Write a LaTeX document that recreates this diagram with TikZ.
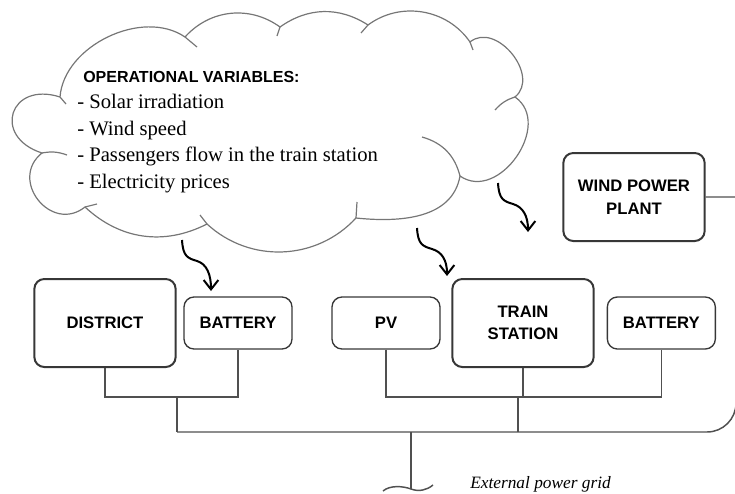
\documentclass[tikz,border=0pt]{standalone}
\usepackage{fontspec}
\setmainfont{Liberation Serif}
\setsansfont{Liberation Sans}
\usetikzlibrary{arrows.meta,positioning,calc}
\definecolor{boxgray}{RGB}{55,55,55}
\definecolor{wiregray}{RGB}{80,80,80}
\definecolor{cloudgray}{RGB}{118,118,118}

\begin{document}
\begin{tikzpicture}[x=0.75pt,y=0.75pt,
  unit/.style={draw=boxgray, rounded corners=7.5pt, align=center,
               font=\sffamily\bfseries\fontsize{12.5}{17}\selectfont},
  bigunit/.style={unit, line width=1.5pt,
                  minimum width=106pt, minimum height=66pt},
  smallunit/.style={unit, line width=1pt,
                    minimum width=81pt, minimum height=39pt},
  puff/.style={draw=cloudgray, line width=0.9pt},
  wire/.style={draw=wiregray, line width=1.1pt},
  squig/.style={-{Straight Barb[length=7pt,width=11pt]}, line width=1.5pt}
]
  \useasboundingbox (0,0) rectangle (735,-493);
  \clip (0,0) rectangle (735,-493);

  \node[bigunit](district) at (105,-323){DISTRICT};
  \node[smallunit, right=5pt of district](battL){BATTERY};
  \node[smallunit](pv) at (386,-323){PV};
  \node[bigunit, right=8pt of pv](train){TRAIN\\STATION};
  \node[smallunit, right=9pt of train](battR){BATTERY};
  \node[bigunit](wind) at (634,-197){WIND POWER\\PLANT};

  % cloud
  \coordinate (cA) at (60,-97);
  \coordinate (cK) at (185,-37);
  \coordinate (cJ) at (280,-27);
  \coordinate (cI) at (368,-25);
  \coordinate (cH) at (470,-42);
  \coordinate (cG) at (515,-97);
  \coordinate (cF) at (460,-176);
  \coordinate (cE) at (356,-218);
  \coordinate (cD) at (207,-224);
  \coordinate (cC) at (85,-207);
  \coordinate (cB) at (42,-153);
  \draw[puff] (cA) to[bend left=60, looseness=0.95] (cK) to[bend left=42] (cJ)
    to[bend left=34] (cI) to[bend left=46] (cH)
    to[bend left=90, looseness=1.2] (cG)
    to[bend left=90, looseness=1.25] (cF) to[out=-100,in=-6] (cE)
    to[bend left=45] (cD) to[bend left=35] (cC)
    to[bend left=90, looseness=1.6] (cB)
    to[bend left=90, looseness=2.3] (cA);
  \draw[puff] (cF) to[bend right=30] (422,-137);
  \draw[puff] (cB) to[bend left=15] (67,-155);
  \draw[puff] (cG) to[bend right=15] (495,-110);
  \foreach \p/\q in {cA/{66,-104}, cK/{197,-47}, cJ/{277,-36}, cI/{361,-33},
                     cH/{473,-50}, cE/{357,-202}, cD/{200,-215}, cC/{97,-204}}
    \draw[puff] (\p) -- (\q);

  \node[anchor=base west, align=left, inner sep=0pt,
        font=\fontsize{15.5}{19.8}\selectfont](varlist) at (77,-188)
    {\hspace*{4.5pt}{\sffamily\bfseries\fontsize{12}{19.8}\selectfont OPERATIONAL VARIABLES:}\\
     - Solar irradiation\\
     - Wind speed\\
     - Passengers flow in the train station\\
     - Electricity prices};

  % squiggly arrows
  \coordinate (s1) at (182,-240);
  \coordinate (e1) at (211,-291);
  \coordinate (s2) at (417,-228);
  \coordinate (e2) at (447,-276);
  \coordinate (s3) at (498,-183);
  \coordinate (e3) at (528,-232);
  \foreach \n in {1,2,3}
    \draw[squig] (s\n) .. controls +(1,-16) and +(-10,3) .. ($(s\n)+(15,-21)$)
      .. controls +(10,-3) and +(0,16) .. (e\n);

  % wiring
  \coordinate (busL) at (177,-397);
  \coordinate (busR) at (518,-397);
  \coordinate (grid) at (411,-432);
  \coordinate (rim) at (736,-403);
  \coordinate (gridend) at (411,-489);
  \draw[wire] (district) -- (district |- busL) -| (battL);
  \draw[wire] (busL) -- (busL |- grid);
  \draw[wire] (pv) -- (pv |- busR) -| (battR);
  \draw[wire] (train) -- (train |- busR);
  \draw[wire] (busR) -- (busR |- grid);
  \draw[wire] (wind.east) -- (wind.east -| rim) -- (rim)
    to[out=-90,in=0] ($(rim)+(-29,-29)$) -- (busL |- grid);
  \draw[wire] (grid) -- (gridend);
  \draw[wire] ($(gridend)+(-28,-2)$) .. controls +(7,6) and +(-8,3) .. (gridend)
    .. controls +(8,-3) and +(-6,-5) .. ($(gridend)+(22,4)$);
  \node[anchor=base west, inner sep=0pt,
        font=\itshape\fontsize{13}{15}\selectfont](extgrid) at (470,-488)
    {External power grid};
\end{tikzpicture}
\end{document}
